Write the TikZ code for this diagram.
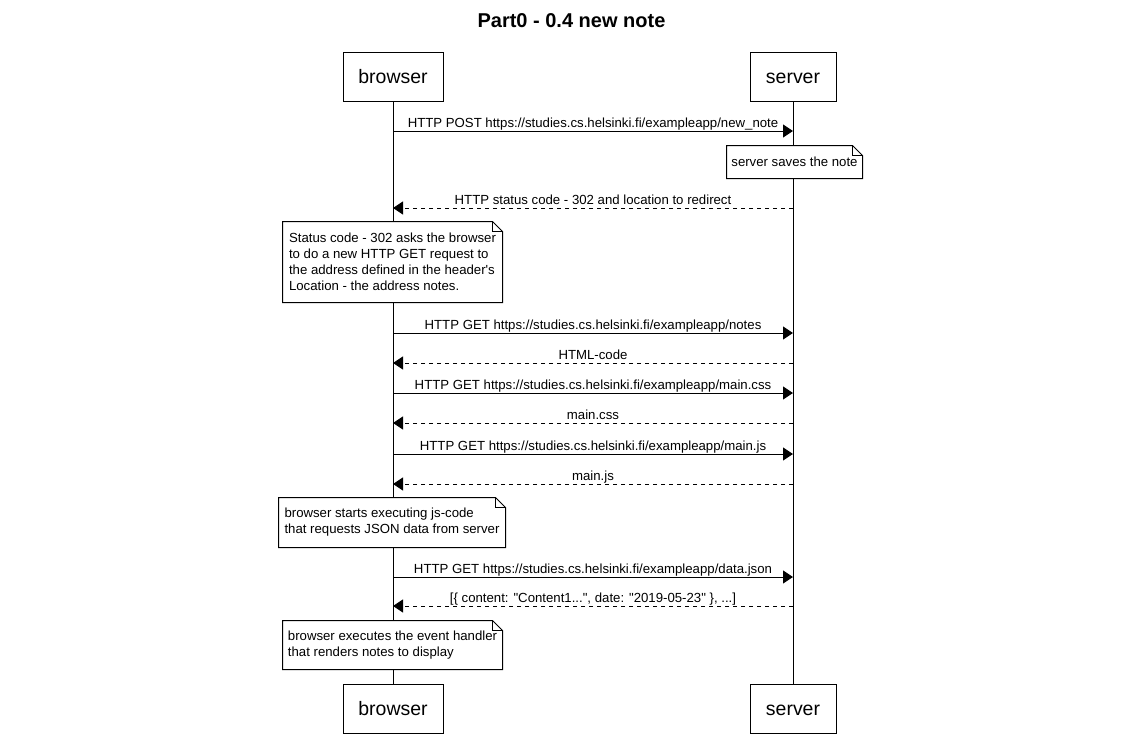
\documentclass[tikz,border=0pt]{standalone}
\usepackage{fontspec}
\setmainfont{Liberation Sans}[Ligatures=TeXOff]
\usetikzlibrary{arrows.meta}
\begin{document}
\begin{tikzpicture}[x=0.75pt,y=-0.75pt,line width=0.75pt,
  title/.style={font=\bfseries\fontsize{15}{18}\selectfont,inner sep=0pt},
  actor/.style={draw,fill=white,minimum height=36.75pt,inner sep=0pt,
    text height=11.2pt,text depth=0pt,
    font=\fontsize{14.6}{17}\selectfont},
  note/.style={fill=white,align=left,inner sep=0pt,
    font=\fontsize{9.9}{12}\selectfont},
  lbl/.style={font=\fontsize{9.9}{12}\selectfont,inner sep=0pt,
    anchor=base,yshift=2.9pt},
  call/.style={-{Triangle[length=7.5pt,width=9.75pt]}},
  reply/.style={call,dash pattern=on 3pt off 3pt}]
\useasboundingbox (0,0) rectangle (1143,736);

% title
\node[title] (title) at (571.5,20.5) {Part0 - 0.4 new note};

% participants, top and bottom
\node[actor,minimum width=75pt]   (bt) at (393,76.5)  {browser};
\node[actor,minimum width=64.5pt] (st) at (793,76.5)  {server};
\node[actor,minimum width=75pt]   (bb) at (393,708.5) {browser};
\node[actor,minimum width=64.5pt] (sb) at (793,708.5) {server};

% lifelines
\draw (bt.south) -- (bb.north);
\draw (st.south) -- (sb.north);

% notes
\node[note,minimum width=101.25pt,minimum height=24pt] (n1) at (794.5,162)
  {server saves the note};
\node[note,minimum width=164.25pt,minimum height=60pt] (n2) at (392.5,262)
  {Status code - 302 asks the browser\\to do a new HTTP GET request to\\the address defined in the header's\\Location - the address notes.};
\node[note,minimum width=169.5pt,minimum height=36.75pt] (n3) at (392,522.5)
  {browser starts executing js-code\\that requests JSON data from server};
\node[note,minimum width=164.25pt,minimum height=36pt] (n4) at (392.5,645)
  {browser executes the event handler\\that renders notes to display};

% note outlines with folded corner
\foreach \n in {n1,n2,n3,n4}{
  \draw (\n.south west) -- (\n.south east) -- ([yshift=-7.5pt]\n.north east)
    -- ([xshift=-7.5pt]\n.north east) -- (\n.north west) -- cycle;
  \draw ([xshift=-7.5pt]\n.north east) |- ([yshift=-7.5pt]\n.north east);
}

% messages
\draw[call]  (bt.south |- 0,131) -- (st.south |- 0,131)
  node[lbl,midway] {HTTP POST https://studies.cs.helsinki.fi/exampleapp/new\_note};
\draw[reply] (st.south |- 0,208) -- (bt.south |- 0,208)
  node[lbl,midway] {HTTP status code - 302 and location to redirect};
\draw[call]  (bt.south |- 0,333) -- (st.south |- 0,333)
  node[lbl,midway] {HTTP GET https://studies.cs.helsinki.fi/exampleapp/notes};
\draw[reply] (st.south |- 0,363) -- (bt.south |- 0,363)
  node[lbl,midway] {HTML-code};
\draw[call]  (bt.south |- 0,393) -- (st.south |- 0,393)
  node[lbl,midway] {HTTP GET https://studies.cs.helsinki.fi/exampleapp/main.css};
\draw[reply] (st.south |- 0,423) -- (bt.south |- 0,423)
  node[lbl,midway] {main.css};
\draw[call]  (bt.south |- 0,454) -- (st.south |- 0,454)
  node[lbl,midway] {HTTP GET https://studies.cs.helsinki.fi/exampleapp/main.js};
\draw[reply] (st.south |- 0,484) -- (bt.south |- 0,484)
  node[lbl,midway] {main.js};
\draw[call]  (bt.south |- 0,577) -- (st.south |- 0,577)
  node[lbl,midway] {HTTP GET https://studies.cs.helsinki.fi/exampleapp/data.json};
\draw[reply] (st.south |- 0,606) -- (bt.south |- 0,606)
  node[lbl,midway] {[\{ content: "Content1...", date: "2019-05-23" \}, ...]};
\end{tikzpicture}
\end{document}
